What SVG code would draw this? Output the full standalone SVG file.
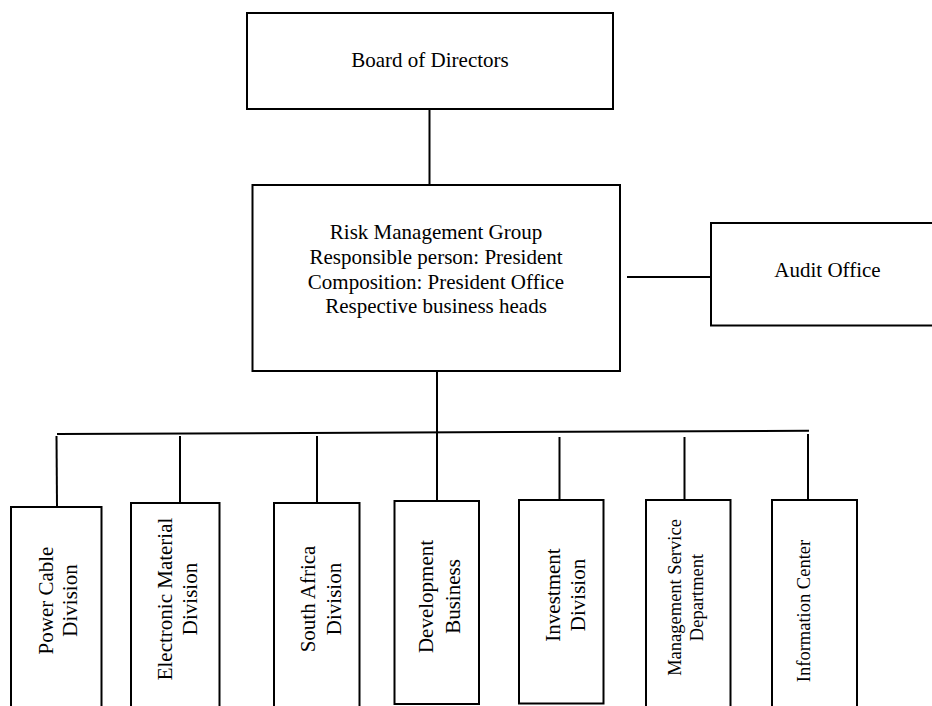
<svg xmlns="http://www.w3.org/2000/svg" width="932" height="706" viewBox="0 0 932 706">
<style>
.box{fill:#fff;stroke:#000;stroke-width:2}
.ln{stroke:#000;stroke-width:2;fill:none}
.t{font-family:"Liberation Serif","Times New Roman",serif;font-size:21px;fill:#000;text-anchor:middle}
.s{font-size:18.5px}
</style>
<rect width="932" height="706" fill="#fff"/>
<g id="connectors">
<line class="ln" x1="429.5" y1="109" x2="429.5" y2="187"/>
<line class="ln" x1="627" y1="277" x2="711" y2="277"/>
<line class="ln" x1="437" y1="371" x2="437" y2="501"/>
<line class="ln" x1="57" y1="434" x2="809" y2="430.7"/>
<line class="ln" x1="56.5" y1="436" x2="57" y2="507"/>
<line class="ln" x1="180" y1="436" x2="180" y2="503"/>
<line class="ln" x1="317" y1="436" x2="317" y2="503"/>
<line class="ln" x1="559.5" y1="437" x2="559.5" y2="500"/>
<line class="ln" x1="684.5" y1="437" x2="684.5" y2="500"/>
<line class="ln" x1="808" y1="434" x2="808" y2="500"/>
</g>
<g id="board">
<rect class="box" x="247" y="13" width="366" height="96"/>
<text class="t" x="430" y="67">Board of Directors</text>
</g>
<g id="risk">
<rect class="box" x="252.5" y="185" width="367.5" height="186"/>
<text class="t" x="436" y="239">Risk Management Group</text>
<text class="t" x="436" y="264">Responsible person: President</text>
<text class="t" x="436" y="288.5">Composition: President Office</text>
<text class="t" x="436" y="313">Respective business heads</text>
</g>
<g id="audit">
<rect class="box" x="711" y="223" width="235" height="102.5"/>
<text class="t" x="827.5" y="277">Audit Office</text>
</g>
<g id="power">
<rect class="box" x="11" y="507" width="90.5" height="210"/>
<g transform="translate(56,600.5) rotate(-90)">
<text class="t" x="0" y="-3">Power Cable</text>
<text class="t" x="0" y="21">Division</text>
</g>
</g>
<g id="electronic">
<rect class="box" x="131" y="503" width="88.5" height="214"/>
<g transform="translate(175.5,599) rotate(-90)">
<text class="t" x="0" y="-4">Electronic Material</text>
<text class="t" x="0" y="21.5">Division</text>
</g>
</g>
<g id="southafrica">
<rect class="box" x="274" y="503" width="85.5" height="214"/>
<g transform="translate(316.5,599) rotate(-90)">
<text class="t" x="0" y="-2">South Africa</text>
<text class="t" x="0" y="24.5">Division</text>
</g>
</g>
<g id="development">
<rect class="box" x="394.5" y="501" width="84.5" height="203"/>
<g transform="translate(436.5,596.5) rotate(-90)">
<text class="t" x="0" y="-4">Development</text>
<text class="t" x="0" y="23.5">Business</text>
</g>
</g>
<g id="investment">
<rect class="box" x="519" y="500" width="84.5" height="203.5"/>
<g transform="translate(561,595) rotate(-90)">
<text class="t" x="0" y="-1">Investment</text>
<text class="t" x="0" y="24">Division</text>
</g>
</g>
<g id="management">
<rect class="box" x="646" y="500" width="84.5" height="217"/>
<g transform="translate(688,597.5) rotate(-90)">
<text class="t s" x="0" y="-7.5">Management Service</text>
<text class="t s" x="0" y="14.5">Department</text>
</g>
</g>
<g id="information">
<rect class="box" x="772" y="500" width="85" height="217"/>
<g transform="translate(814,611) rotate(-90)">
<text class="t s" x="0" y="-4">Information Center</text>
</g>
</g>
</svg>
